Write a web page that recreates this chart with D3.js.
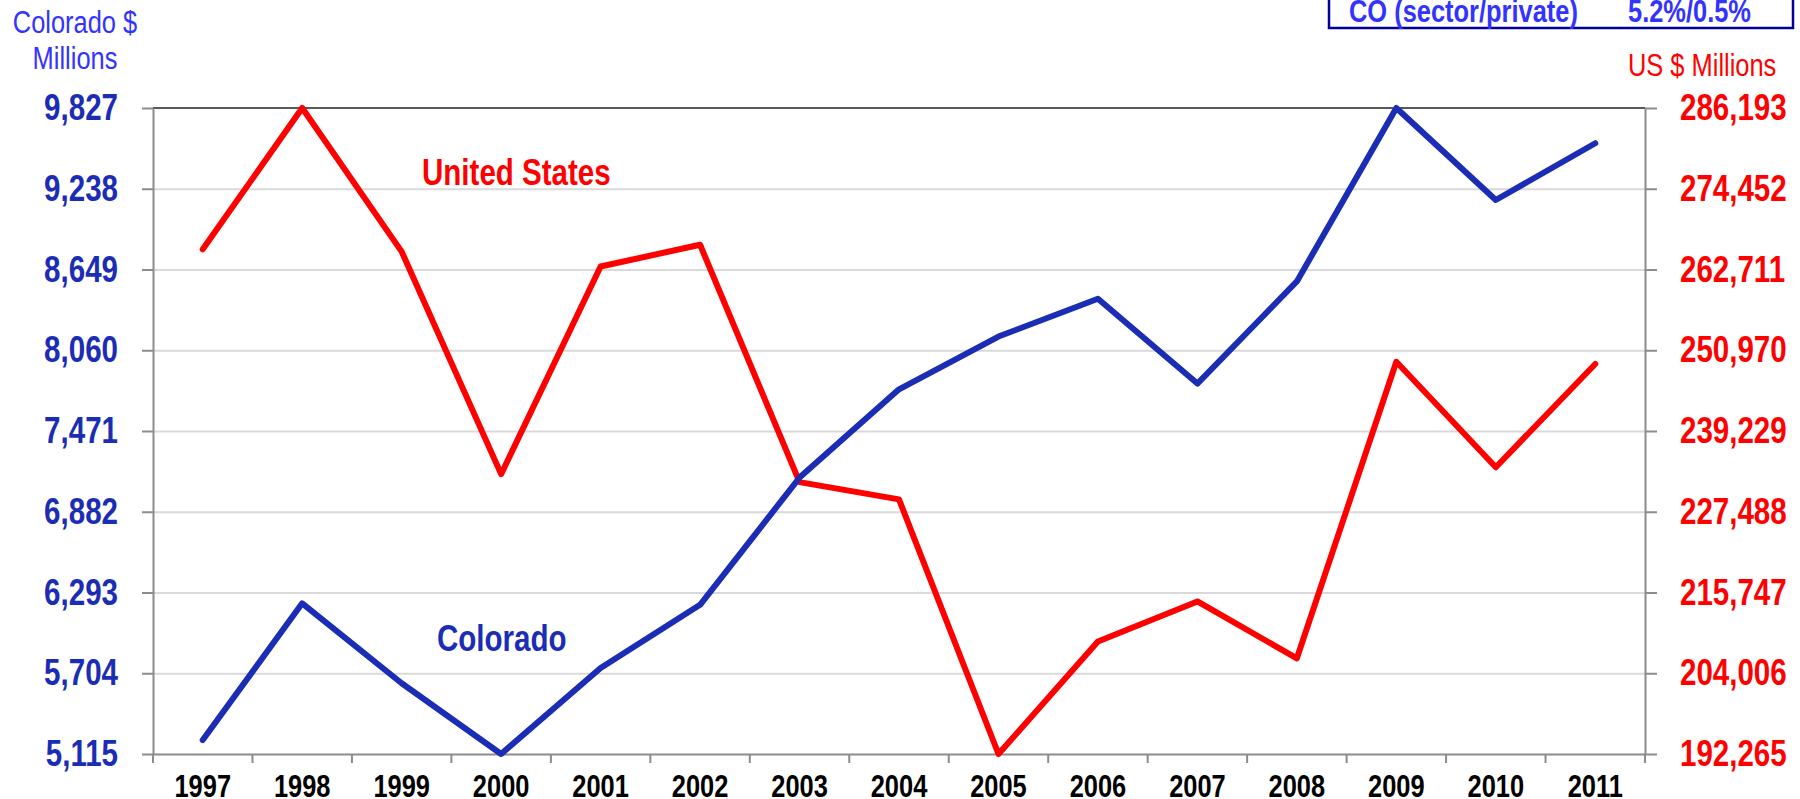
<!DOCTYPE html>
<html>
<head>
<meta charset="utf-8">
<script src="https://cdn.jsdelivr.net/npm/d3@7"></script>
<style>
  body { margin: 0; background: #fff; }
  svg { display: block; }
  text { font-family: "Liberation Sans", Arial, sans-serif; }
</style>
</head>
<body>
<div id="grafico"></div>
<script>
const years = ['1997','1998','1999','2000','2001','2002','2003','2004','2005','2006','2007','2008','2009','2010','2011'];
const colorado = [5217, 6214, 5631, 5115, 5742, 6203, 7131, 7775, 8160, 8436, 7817, 8562, 9827, 9156, 9570];
const unitedStates = [265646, 286193, 265312, 232959, 263145, 266312, 231792, 229288, 192265, 208609, 214446, 206179, 249301, 233959, 248968];
const leftTicks = [5115, 5704, 6293, 6882, 7471, 8060, 8649, 9238, 9827];
const rightTicks = [192265, 204006, 215747, 227488, 239229, 250970, 262711, 274452, 286193];

const W = 1800, H = 799;
const margin = { top: 108, right: 155, bottom: 45, left: 153 };
const width = W - margin.left - margin.right;
const height = H - margin.top - margin.bottom;

const blue = '#1c2db5';
const lightBlue = '#3333ff';
const red = '#ff0000';

// no Arial Narrow here, so squeeze the glyphs horizontally
function narrow(sel, k = 0.82) {
  sel.each(function () {
    const w = this.getComputedTextLength();
    d3.select(this).attr('textLength', w * k).attr('lengthAdjust', 'spacingAndGlyphs');
  });
}

const svgBase = d3.select('#grafico')
  .append('svg')
  .attr('width', W)
  .attr('height', H);

const svg = svgBase.append('g')
  .attr('transform', `translate(${margin.left},${margin.top})`);

const x = d3.scaleBand()
  .domain(years)
  .range([0, width])
  .padding(0);

const yL = d3.scaleLinear()
  .domain([leftTicks[0], leftTicks[leftTicks.length - 1]])
  .range([height, 0]);

const yR = d3.scaleLinear()
  .domain([rightTicks[0], rightTicks[rightTicks.length - 1]])
  .range([height, 0]);

// gridlines
svg.append('g')
  .call(d3.axisLeft(yL).tickValues(leftTicks.slice(1, -1)).tickSize(-width).tickFormat(''))
  .call(g => g.select('.domain').remove())
  .selectAll('line')
  .attr('stroke', '#d9d9d9')
  .attr('stroke-width', 2);

// top border
svg.append('line')
  .attr('x1', 0).attr('x2', width)
  .attr('y1', 0).attr('y2', 0)
  .attr('stroke', '#595959')
  .attr('stroke-width', 2);

// left axis
const gL = svg.append('g')
  .call(d3.axisLeft(yL).tickValues(leftTicks).tickSize(11).tickSizeOuter(0).tickPadding(24).tickFormat(d3.format(',')));
gL.select('.domain').attr('stroke', '#8c8c8c').attr('stroke-width', 2);
gL.selectAll('line').attr('stroke', '#8c8c8c').attr('stroke-width', 2);
gL.selectAll('text')
  .attr('fill', blue)
  .style('font-size', '36px')
  .style('font-weight', 'bold')
  .call(narrow);

// right axis
const gR = svg.append('g')
  .attr('transform', `translate(${width},0)`)
  .call(d3.axisRight(yR).tickValues(rightTicks).tickSize(12).tickSizeOuter(0).tickPadding(23).tickFormat(d3.format(',')));
gR.select('.domain').attr('stroke', '#8c8c8c').attr('stroke-width', 2);
gR.selectAll('line').attr('stroke', '#8c8c8c').attr('stroke-width', 2);
gR.selectAll('text')
  .attr('fill', red)
  .style('font-size', '36px')
  .style('font-weight', 'bold')
  .call(narrow);

// bottom axis: ticks at band edges
const gB = svg.append('g')
  .attr('transform', `translate(0,${height})`)
  .call(d3.axisBottom(x).tickSize(0).tickSizeOuter(0).tickPadding(0));
gB.select('.domain').attr('stroke', '#8c8c8c').attr('stroke-width', 2);
gB.selectAll('text')
  .attr('y', 43)
  .attr('dy', 0)
  .attr('fill', '#000')
  .style('font-size', '31px')
  .style('font-weight', 'bold')
  .call(narrow);
gB.selectAll('.edge')
  .data(years.concat(['end']))
  .enter().append('line')
  .attr('class', 'edge')
  .attr('x1', (d, i) => i < years.length ? x(d) : width)
  .attr('x2', (d, i) => i < years.length ? x(d) : width)
  .attr('y1', 0)
  .attr('y2', 9)
  .attr('stroke', '#8c8c8c')
  .attr('stroke-width', 2);

// lines
const cx = d => x(d) + x.bandwidth() / 2;

svg.append('path')
  .datum(years.map((d, i) => [d, unitedStates[i]]))
  .attr('fill', 'none')
  .attr('stroke', red)
  .attr('stroke-width', 6)
  .attr('stroke-linejoin', 'round')
  .attr('stroke-linecap', 'round')
  .attr('d', d3.line().x(d => cx(d[0])).y(d => yR(d[1])));

svg.append('path')
  .datum(years.map((d, i) => [d, colorado[i]]))
  .attr('fill', 'none')
  .attr('stroke', blue)
  .attr('stroke-width', 6)
  .attr('stroke-linejoin', 'round')
  .attr('stroke-linecap', 'round')
  .attr('d', d3.line().x(d => cx(d[0])).y(d => yL(d[1])));

// series labels
svgBase.append('text')
  .attr('x', 422).attr('y', 185)
  .attr('fill', red)
  .style('font-size', '36px')
  .style('font-weight', 'bold')
  .text('United States')
  .call(narrow);

svgBase.append('text')
  .attr('x', 437).attr('y', 651)
  .attr('fill', blue)
  .style('font-size', '36px')
  .style('font-weight', 'bold')
  .text('Colorado')
  .call(narrow);

// axis titles
svgBase.append('text')
  .attr('x', 75).attr('y', 33)
  .attr('text-anchor', 'middle')
  .attr('fill', lightBlue)
  .style('font-size', '31px')
  .text('Colorado $')
  .call(narrow);

svgBase.append('text')
  .attr('x', 75).attr('y', 69)
  .attr('text-anchor', 'middle')
  .attr('fill', lightBlue)
  .style('font-size', '31px')
  .text('Millions')
  .call(narrow);

svgBase.append('text')
  .attr('x', 1628).attr('y', 76)
  .attr('fill', red)
  .style('font-size', '31px')
  .text('US $ Millions')
  .call(narrow);

// box at top right, cut by the edge
svgBase.append('rect')
  .attr('x', 1329).attr('y', -20)
  .attr('width', 464).attr('height', 48)
  .attr('fill', 'none')
  .attr('stroke', '#000099')
  .attr('stroke-width', 2.5);

svgBase.append('text')
  .attr('x', 1349).attr('y', 22)
  .attr('fill', lightBlue)
  .style('font-size', '31px')
  .style('font-weight', 'bold')
  .text('CO (sector/private)')
  .call(narrow);

svgBase.append('text')
  .attr('x', 1628).attr('y', 22)
  .attr('fill', lightBlue)
  .style('font-size', '31px')
  .style('font-weight', 'bold')
  .text('5.2%/0.5%')
  .call(narrow);
</script>
</body>
</html>
